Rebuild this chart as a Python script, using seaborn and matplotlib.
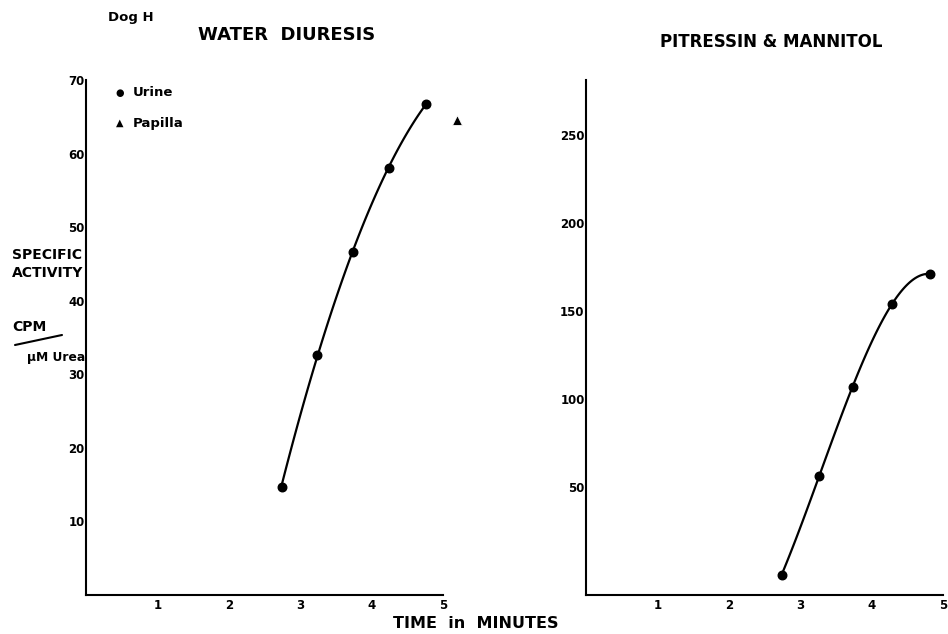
import numpy as np
import pandas as pd
import matplotlib
matplotlib.use("Agg")
import matplotlib.pyplot as plt
import seaborn as sns
from matplotlib.lines import Line2D

# values
water_time = [2.74, 3.23, 3.74, 4.24, 4.76]
water_urine = [14.7, 32.6, 46.6, 58.0, 66.8]
papilla_time = [5.19]
papilla_value = [64.6]

pit_time = [2.74, 3.26, 3.74, 4.28, 4.82]
pit_urine = [0.0, 56.0, 107.0, 154.0, 171.0]

x_ticks = [1, 2, 3, 4, 5]
left_yticks = [10, 20, 30, 40, 50, 60, 70]
right_yticks = [50, 100, 150, 200, 250]

sns.set_style("white")
plt.rcParams['font.family'] = ['DejaVu Sans']
plt.rcParams['font.weight'] = 'bold'
plt.rcParams['text.color'] = 'black'

fig = plt.figure(figsize=(9.48, 6.34), dpi=100)
W, H = 948, 634

def px_axes(x0, y_top, x1, y_bot):
    return fig.add_axes([x0 / W, 1 - y_bot / H, (x1 - x0) / W, (y_bot - y_top) / H])

ax1 = px_axes(86, 80, 443, 595)
ax2 = px_axes(586, 80, 943, 595)

water = pd.DataFrame({"time": water_time, "activity": water_urine})
pit = pd.DataFrame({"time": pit_time, "activity": pit_urine})

sns.regplot(data=water, x="time", y="activity", order=2, ci=None, ax=ax1,
            color="black", scatter_kws={"s": 38, "zorder": 3, "alpha": 1},
            line_kws={"lw": 1.6})
sns.scatterplot(x=papilla_time, y=papilla_value, marker="^", s=50,
                color="black", ax=ax1, clip_on=False, zorder=4)

sns.regplot(data=pit, x="time", y="activity", order=3, ci=None, ax=ax2,
            color="black", scatter_kws={"s": 38, "zorder": 3, "alpha": 1},
            line_kws={"lw": 1.6})

ax1.set_xlim(0, 5)
ax1.set_ylim(0, 70)
ax1.set_yticks(left_yticks)
ax2.set_xlim(0, 5)
ax2.set_ylim(-11.4, 281.3)
ax2.set_yticks(right_yticks)

for ax in (ax1, ax2):
    ax.set_xticks(x_ticks)
    ax.set_xticklabels([str(t) for t in x_ticks])
    ax.set_xlabel("")
    ax.set_ylabel("")
    sns.despine(ax=ax)
    for s in ("left", "bottom"):
        ax.spines[s].set_color("black")
        ax.spines[s].set_linewidth(1.5)
    ax.tick_params(axis="both", length=0, labelsize=8.5, colors="black")
    ax.tick_params(axis="x", pad=3)
    ax.tick_params(axis="y", pad=1)
    for lab in ax.get_xticklabels() + ax.get_yticklabels():
        lab.set_fontweight("bold")

def ftext(x, y, s, **kw):
    fig.text(x / W, 1 - y / H, s, va="center", color="black", **kw)

ftext(108, 18, "Dog H", fontsize=9.5, fontweight="bold")
ftext(287, 35, "WATER  DIURESIS", fontsize=13, fontweight="bold", ha="center")
ftext(771, 42, "PITRESSIN & MANNITOL", fontsize=12, fontweight="bold", ha="center")

# legend
ftext(120, 93, "\u25CF", fontsize=7, ha="center")
ftext(133, 93, "Urine", fontsize=9.5, fontweight="bold")
ftext(120, 123, "\u25B2", fontsize=7, ha="center")
ftext(133, 123, "Papilla", fontsize=9.5, fontweight="bold")

# y label
ftext(12, 255, "SPECIFIC", fontsize=10, fontweight="bold")
ftext(12, 273, "ACTIVITY", fontsize=10, fontweight="bold")
ftext(12, 327, "CPM", fontsize=10, fontweight="bold")
fig.add_artist(Line2D([15 / W, 62 / W], [1 - 345 / H, 1 - 335 / H],
                      color="black", lw=1.5))
ftext(27, 357, "\u03BCM Urea", fontsize=8.8, fontweight="bold")

# x label
ftext(393, 624, "TIME  in  MINUTES", fontsize=11.5, fontweight="bold")

fig.savefig("out.png", dpi=100)
